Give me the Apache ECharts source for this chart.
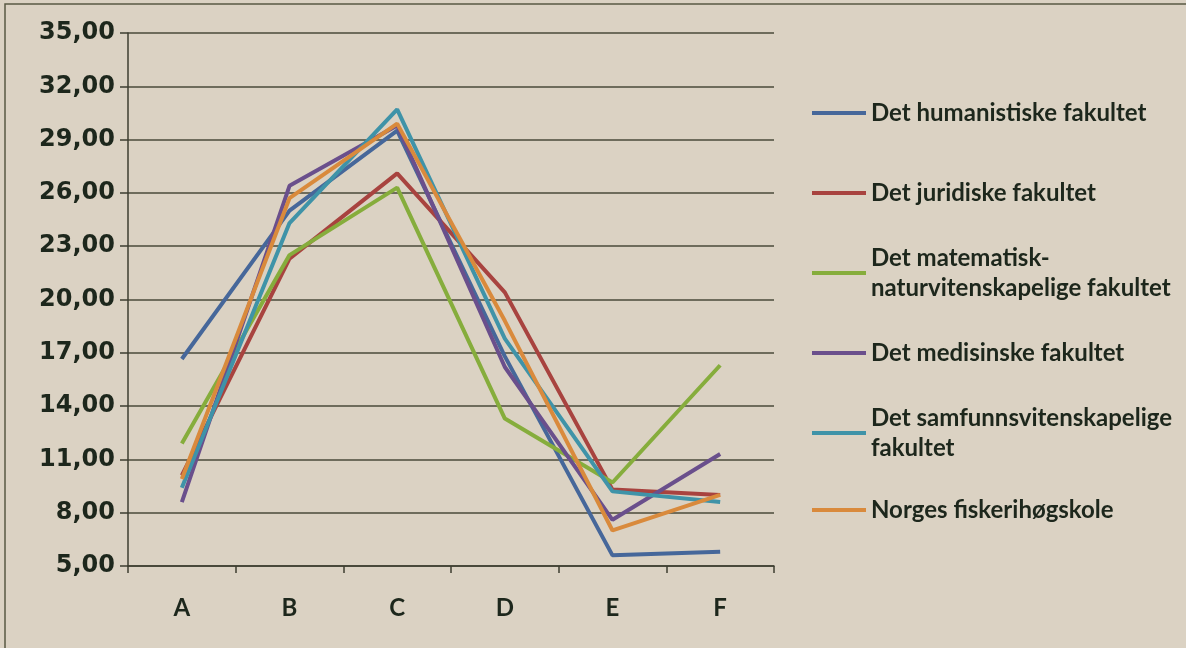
<!DOCTYPE html>
<html>
<head>
<meta charset="utf-8">
<script src="https://cdn.jsdelivr.net/npm/echarts@6/dist/echarts.min.js"></script>
<style>
  html, body { margin: 0; padding: 0; background: #dbd2c3; }
  #chart { width: 1186px; height: 648px; }
</style>
</head>
<body>
<div id="chart"></div>
<script>
var categories = ['A', 'B', 'C', 'D', 'E', 'F'];
var yTicks = [5, 8, 11, 14, 17, 20, 23, 26, 29, 32, 35];

var seriesNames = [
    'Det humanistiske fakultet',
    'Det juridiske fakultet',
    'Det matematisk-naturvitenskapelige fakultet',
    'Det medisinske fakultet',
    'Det samfunnsvitenskapelige fakultet',
    'Norges fiskerihøgskole'
];
// legend labels as printed (line breaks)
var legendLabels = [
    'Det humanistiske fakultet',
    'Det juridiske fakultet',
    'Det matematisk-\nnaturvitenskapelige fakultet',
    'Det medisinske fakultet',
    'Det samfunnsvitenskapelige\nfakultet',
    'Norges fiskerihøgskole'
];

var humanistiske = [16.65, 25.0, 29.5, 16.8, 5.6, 5.8];
var juridiske = [10.1, 22.3, 27.1, 20.4, 9.3, 9.0];
var matematisk = [11.9, 22.5, 26.3, 13.3, 9.7, 16.3];
var medisinske = [8.6, 26.4, 29.8, 16.2, 7.6, 11.3];
var samfunn = [9.4, 24.3, 30.7, 17.8, 9.2, 8.6];
var fiskeri = [9.9, 25.7, 29.9, 18.8, 7.0, 9.0];

var seriesData = [humanistiske, juridiske, matematisk, medisinske, samfunn, fiskeri];
var colors = ['#46679a', '#a8433f', '#86ad3c', '#6a4f8c', '#3f93a8', '#d98a3c'];

// legend item centres (first line), px
var legendCenters = [113, 193, 273, 353, 433, 510];

var myChart = echarts.init(document.getElementById('chart'));

var temp_series = [];
for (var i = 0; i < seriesData.length; i++) {
    temp_series.push({
        name: seriesNames[i],
        type: 'line',
        data: seriesData[i],
        symbol: 'none',
        lineStyle: { width: 4, color: colors[i] },
        itemStyle: { color: colors[i] }
    });
}

var legends = [];
for (var j = 0; j < seriesNames.length; j++) {
    var twoLines = legendLabels[j].indexOf('\n') >= 0;
    legends.push({
        data: [seriesNames[j]],
        left: 812,
        top: twoLines ? legendCenters[j] - 45 : legendCenters[j] - 15,
        padding: 0,
        icon: 'rect',
        itemWidth: 54,
        itemHeight: 4,
        itemGap: 6,
        selectedMode: false,
        formatter: (function (k) { return function () { return legendLabels[k]; }; })(j),
        textStyle: {
            fontFamily: 'Lato',
            fontWeight: 'bold',
            fontSize: 24,
            color: '#1d271c',
            lineHeight: 30,
            padding: twoLines ? [30, 0, 0, 0] : 0
        }
    });
}

var option = {
    backgroundColor: '#dbd2c3',
    animation: false,
    color: colors,
    legend: legends,
    grid: { left: 128, right: 412, top: 33, bottom: 82 },
    xAxis: {
        type: 'category',
        data: categories,
        boundaryGap: true,
        axisLine: { lineStyle: { color: '#3e3e30', width: 1.5 } },
        axisTick: { show: true, length: 7, lineStyle: { color: '#3e3e30', width: 1.5 } },
        axisLabel: {
            margin: 30,
            fontFamily: 'Lato',
            fontWeight: 'bold',
            fontSize: 24,
            color: '#1d271c'
        }
    },
    yAxis: {
        type: 'value',
        min: 5,
        max: 35,
        axisLine: { show: true, lineStyle: { color: '#3e3e30', width: 1.5 } },
        axisTick: { show: true, length: 8, customValues: yTicks, lineStyle: { color: '#3e3e30', width: 1.5 } },
        axisLabel: {
            customValues: yTicks,
            margin: 13,
            fontFamily: 'DejaVu Sans',
            fontWeight: 'bold',
            fontSize: 24,
            color: '#1d271c',
            formatter: function (v) { return v.toFixed(2).replace('.', ','); }
        },
        splitLine: { show: true, lineStyle: { color: '#4a4a3a', width: 1.5 } }
    },
    graphic: [{
        type: 'rect',
        shape: { x: 5, y: 4, width: 1200, height: 700 },
        style: { fill: null, stroke: '#5a5a44', lineWidth: 1.5 },
        silent: true
    }],
    series: temp_series
};

myChart.setOption(option);
</script>
</body>
</html>
